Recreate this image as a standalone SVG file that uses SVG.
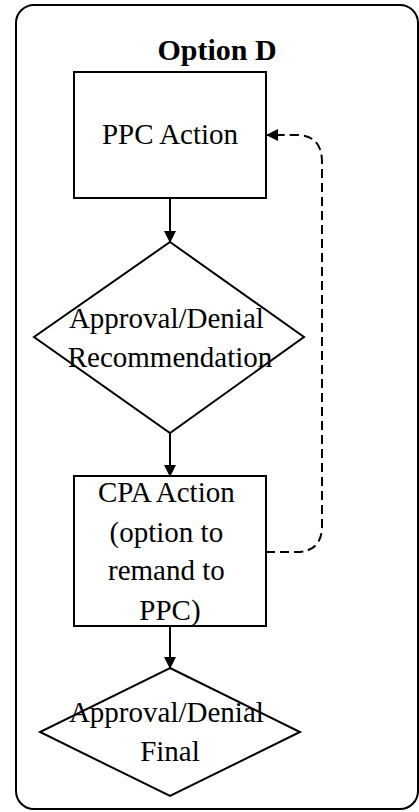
<svg xmlns="http://www.w3.org/2000/svg" width="419" height="812" viewBox="0 0 419 812">
  <style>
    .frame { fill: #ffffff; stroke: #000000; stroke-width: 2; }
    .shape { fill: #ffffff; stroke: #000000; stroke-width: 2; }
    .label { font-family: "Liberation Serif", "Times New Roman", serif; font-size: 29px; fill: #000000; text-anchor: middle; }
    .title { font-family: "Liberation Serif", "Times New Roman", serif; font-size: 30px; font-weight: bold; fill: #000000; text-anchor: middle; }
    .flow { fill: none; stroke: #000000; stroke-width: 2; }
    .dashed { fill: none; stroke: #000000; stroke-width: 2; stroke-dasharray: 9 5; }
  </style>
  <defs>
    <marker id="arrow" viewBox="0 0 12 12" refX="11" refY="6" markerWidth="12" markerHeight="12" markerUnits="userSpaceOnUse" orient="auto">
      <path d="M0,0 L12,6 L0,12 Z" fill="#000000"/>
    </marker>
  </defs>

  <rect width="419" height="812" fill="#ffffff"/>

  <!-- outer panel -->
  <g id="panel">
    <rect class="frame" x="16" y="5" width="402" height="804" rx="18" ry="18"/>
    <text class="title" x="217" y="60">Option D</text>
  </g>

  <g id="ppc-action">
    <rect class="shape" x="74" y="72" width="192" height="126"/>
    <text class="label" x="170" y="144">PPC Action</text>
  </g>

  <g id="recommendation">
    <polygon class="shape" points="170,242 304,337 170,433 34,337"/>
    <text class="label" x="170" y="328">
      <tspan x="170" y="328">Approval/Denial</tspan>
      <tspan x="170" y="367">Recommendation</tspan>
    </text>
  </g>

  <g id="cpa-action">
    <rect class="shape" x="74" y="476" width="192" height="150"/>
    <text class="label" x="170" y="502">
      <tspan x="170" y="502">CPA Action</tspan>
      <tspan x="170" y="542">(option to</tspan>
      <tspan x="170" y="580">remand to</tspan>
      <tspan x="170" y="620">PPC)</tspan>
    </text>
  </g>

  <g id="final">
    <polygon class="shape" points="170,668 300,732 170,796 40,732"/>
    <text class="label" x="170" y="722">
      <tspan x="170" y="722">Approval/Denial</tspan>
      <tspan x="170" y="761">Final</tspan>
    </text>
  </g>

  <g id="connectors">
    <line class="flow" x1="170" y1="198" x2="170" y2="242" marker-end="url(#arrow)"/>
    <line class="flow" x1="170" y1="433" x2="170" y2="476" marker-end="url(#arrow)"/>
    <line class="flow" x1="170" y1="626" x2="170" y2="668" marker-end="url(#arrow)"/>
    <path class="dashed" d="M266,552 L296,552 Q322,552 322,526 L322,162 Q322,135 296,135 L267,135" marker-end="url(#arrow)"/>
  </g>
</svg>
